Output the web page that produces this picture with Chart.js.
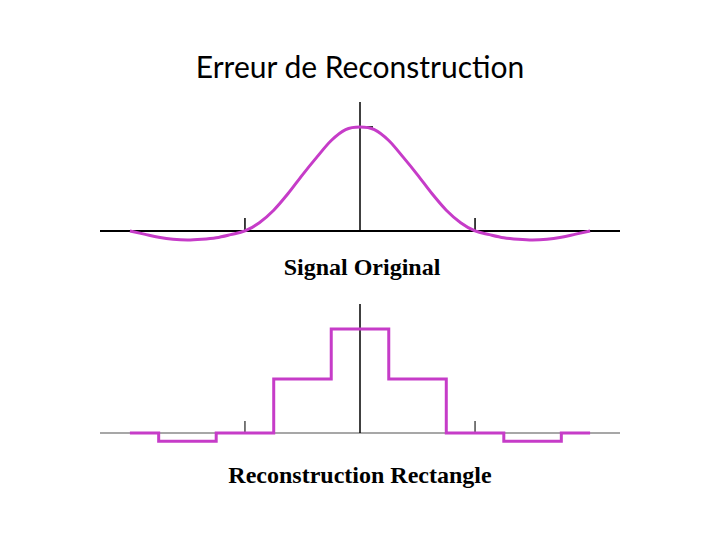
<!DOCTYPE html>
<html>
<head>
<meta charset="utf-8">
<script src="https://cdn.jsdelivr.net/npm/chart.js@4/dist/chart.umd.min.js"></script>
<style>
  html, body { margin: 0; padding: 0; background: #fff; }
  #page { position: relative; width: 720px; height: 540px; overflow: hidden; }
  canvas { position: absolute; }
  .label { position: absolute; left: 0; width: 720px; text-align: center; white-space: nowrap; color: #000; }
  #title { font-family: Lato, "Open Sans", sans-serif; font-size: 30px; top: 49px; line-height: 35px; }
  .caption { font-family: "Liberation Serif", "Times New Roman", serif; font-weight: bold; font-size: 24px; line-height: 28px; }
</style>
</head>
<body>
<div id="page">
  <div id="title" class="label">Erreur de Reconstruction</div>
  <canvas id="signalChart" width="520" height="150" style="left:100px; top:102px;"></canvas>
  <div class="label caption" style="top:253px; padding-left:4px; box-sizing:border-box;">Signal Original</div>
  <canvas id="rectChart" width="520" height="150" style="left:100px; top:304px;"></canvas>
  <div class="label caption" style="top:461px;">Reconstruction Rectangle</div>
</div>
<script>
// ===============================
// DATA
// ===============================
const signalX = [-2, -1.875, -1.75, -1.625, -1.5, -1.375, -1.25, -1.125, -1,
  -0.875, -0.75, -0.625, -0.5, -0.375, -0.25, -0.125, 0,
  0.125, 0.25, 0.375, 0.5, 0.625, 0.75, 0.875, 1,
  1.125, 1.25, 1.375, 1.5, 1.625, 1.75, 1.875, 2];
const signalY = [0, -0.03, -0.06, -0.08, -0.087, -0.08, -0.065, -0.035, 0,
  0.08, 0.2, 0.36, 0.54, 0.71, 0.87, 0.975, 1,
  0.975, 0.87, 0.71, 0.54, 0.36, 0.2, 0.08, 0,
  -0.035, -0.065, -0.08, -0.087, -0.08, -0.06, -0.03, 0];

const rectX = [-2, -1.5, -1, -0.5, 0, 0.5, 1, 1.5, 2];
const rectY = [0, -0.08, 0, 0.52, 1, 0.52, 0, -0.08, 0];

const xTicks = [-1, 1];
const yTicks = [1];

// ===============================
// STYLE
// ===============================
const LINE_COLOR = "#c63cc8";

// axes through zero, with the small tick marks, drawn from the scales
const axesPlugin = {
  id: "axes",
  beforeDatasetsDraw(chart, args, opts) {
    const ctx = chart.ctx;
    const area = chart.chartArea;
    const x = chart.scales.x;
    const y = chart.scales.y;
    const x0 = x.getPixelForValue(0);
    const y0 = y.getPixelForValue(0);

    ctx.save();
    ctx.lineCap = "butt";

    ctx.strokeStyle = opts.xAxisColor;
    ctx.lineWidth = opts.xAxisWidth;
    ctx.beginPath();
    ctx.moveTo(area.left, y0);
    ctx.lineTo(area.right, y0);
    ctx.stroke();

    ctx.strokeStyle = "#000";
    ctx.lineWidth = 1.5;
    ctx.beginPath();
    ctx.moveTo(x0, area.top);
    ctx.lineTo(x0, y0);
    ctx.stroke();

    ctx.strokeStyle = opts.tickColor;
    ctx.lineWidth = opts.tickWidth;
    xTicks.forEach(v => {
      const px = x.getPixelForValue(v);
      ctx.beginPath();
      ctx.moveTo(px, y0);
      ctx.lineTo(px, y0 - opts.tickLen);
      ctx.stroke();
    });
    yTicks.forEach(v => {
      const py = y.getPixelForValue(v);
      ctx.beginPath();
      ctx.moveTo(x0, py);
      ctx.lineTo(x0 + opts.tickLen, py);
      ctx.stroke();
    });
    ctx.restore();
  }
};

function makeChart(id, xs, ys, stepped, axisOpts) {
  return new Chart(document.getElementById(id), {
    type: "line",
    data: {
      datasets: [{
        data: xs.map((v, i) => ({ x: v, y: ys[i] })),
        borderColor: LINE_COLOR,
        borderWidth: 3,
        pointRadius: 0,
        fill: false,
        clip: false,
        stepped: stepped,
        cubicInterpolationMode: stepped ? "default" : "monotone"
      }]
    },
    options: {
      responsive: false,
      animation: false,
      devicePixelRatio: 1,
      layout: { padding: 0 },
      scales: {
        x: { type: "linear", min: -2.26, max: 2.26, display: false },
        y: { type: "linear", min: -0.202, max: 1.24, display: false }
      },
      plugins: {
        legend: { display: false },
        tooltip: { enabled: false },
        axes: axisOpts
      }
    },
    plugins: [axesPlugin]
  });
}

makeChart("signalChart", signalX, signalY, false,
  { xAxisColor: "#000", xAxisWidth: 2, tickColor: "#000", tickWidth: 1.5, tickLen: 13 });

makeChart("rectChart", rectX, rectY, "middle",
  { xAxisColor: "#8a8a8a", xAxisWidth: 1.5, tickColor: "#222", tickWidth: 1.2, tickLen: 12 });
</script>
</body>
</html>
